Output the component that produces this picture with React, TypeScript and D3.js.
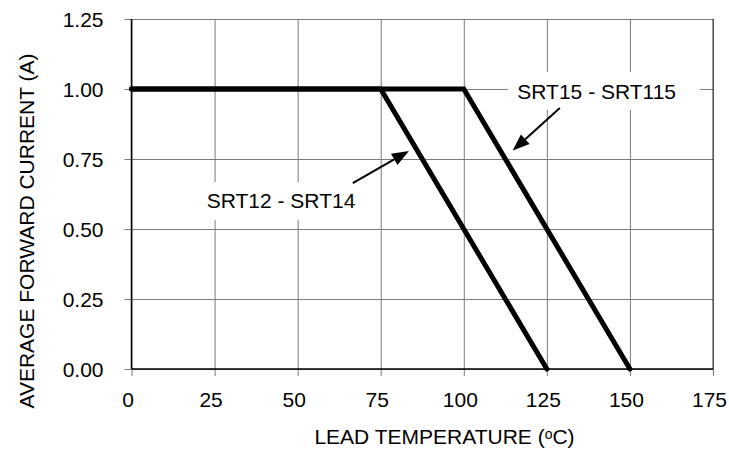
import React, { useEffect, useRef } from 'react';
import * as d3 from 'd3';

// derating curves: lead temperature (°C) vs average forward current (A)
const srt12Temps = [0, 75, 125];
const srt12Current = [1.0, 1.0, 0.0];
const srt15Temps = [0, 100, 150];
const srt15Current = [1.0, 1.0, 0.0];

const xTicks = [0, 25, 50, 75, 100, 125, 150, 175];
const yTicks = [0, 0.25, 0.5, 0.75, 1.0, 1.25];

// callouts in data units: label anchor and arrow from -> to
const calloutNames = ['SRT15 - SRT115', 'SRT12 - SRT14'];
const calloutLabelAt = [[140, 0.965], [45, 0.575]];
const calloutArrowFrom = [[128.9, 0.932], [66.6, 0.664]];
const calloutArrowTo = [[114.7, 0.78], [83.5, 0.779]];

const W = 729;
const H = 449;
const FONT = '"Liberation Sans", Arial, Helvetica, sans-serif';

const App: React.FC = () => {
  const svgRef = useRef<SVGSVGElement>(null);

  useEffect(() => {
    if (!svgRef.current) return;
    const svg = d3.select(svgRef.current);
    svg.selectAll('*').remove();

    const left = 131.5, right = 713, top = 19, bottom = 369;
    const x = d3.scaleLinear().domain([0, 175]).range([left, right]);
    const y = d3.scaleLinear().domain([0, 1.25]).range([bottom, top]);

    // horizontal grid + y ticks
    const yAxis = svg.append('g')
      .attr('transform', `translate(${left},0)`)
      .call(d3.axisLeft(y).tickValues(yTicks).tickSize(7).tickFormat(d3.format('.2f')));
    yAxis.select('.domain').remove();
    yAxis.selectAll('.tick line')
      .attr('x2', -7).attr('x1', right - left)
      .attr('stroke', '#7a7a7a').attr('stroke-width', 1);
    yAxis.selectAll('.tick text')
      .attr('x', -28).attr('dy', '0.36em')
      .style('font-family', FONT).style('font-size', '21px').attr('fill', '#000');

    // vertical grid + x ticks
    const xAxis = svg.append('g')
      .attr('transform', `translate(0,${bottom})`)
      .call(d3.axisBottom(x).tickValues(xTicks).tickSize(7).tickFormat(d3.format('d')));
    xAxis.select('.domain').remove();
    xAxis.selectAll('.tick line')
      .attr('y2', 7).attr('y1', top - bottom)
      .attr('stroke', '#7a7a7a').attr('stroke-width', 1);
    xAxis.selectAll('.tick text')
      .attr('x', -4).attr('y', 23).attr('dy', '0.71em')
      .style('font-family', FONT).style('font-size', '21px').attr('fill', '#000');

    // right border slightly darker
    svg.append('line')
      .attr('x1', x(175)).attr('x2', x(175)).attr('y1', top).attr('y2', bottom)
      .attr('stroke', '#333').attr('stroke-width', 1);

    // white boxes behind callout labels
    svg.append('rect')
      .attr('x', 508).attr('y', 72).attr('width', 192).attr('height', 38).attr('fill', '#fff');
    svg.append('rect')
      .attr('x', 199).attr('y', 182).attr('width', 165).attr('height', 38).attr('fill', '#fff');

    // axes
    svg.append('line')
      .attr('x1', left).attr('x2', left).attr('y1', top).attr('y2', bottom)
      .attr('stroke', '#000').attr('stroke-width', 1.5);
    svg.append('line')
      .attr('x1', left).attr('x2', right).attr('y1', bottom).attr('y2', bottom)
      .attr('stroke', '#000').attr('stroke-width', 1.5);

    const drawCurve = (temps: number[], cur: number[]) => {
      const pts = temps.map((t, i) => [x(t), y(cur[i])] as [number, number]);
      svg.append('path')
        .attr('d', d3.line()(pts))
        .attr('fill', 'none')
        .attr('stroke', '#000')
        .attr('stroke-width', 5)
        .attr('stroke-linejoin', 'miter')
        .attr('stroke-linecap', 'round');
    };
    drawCurve(srt12Temps, srt12Current);
    drawCurve(srt15Temps, srt15Current);

    // callouts
    calloutNames.forEach((name, i) => {
      const [fx, fy] = [x(calloutArrowFrom[i][0]), y(calloutArrowFrom[i][1])];
      const [tx, ty] = [x(calloutArrowTo[i][0]), y(calloutArrowTo[i][1])];
      const ang = Math.atan2(ty - fy, tx - fx);
      const headLen = 17, headW = 6.5;
      const bx = tx - headLen * Math.cos(ang), by = ty - headLen * Math.sin(ang);
      svg.append('line')
        .attr('x1', fx).attr('y1', fy).attr('x2', bx).attr('y2', by)
        .attr('stroke', '#000').attr('stroke-width', 2);
      const px = -Math.sin(ang) * headW, py = Math.cos(ang) * headW;
      svg.append('path')
        .attr('d', `M${tx},${ty}L${bx + px},${by + py}L${bx - px},${by - py}Z`)
        .attr('fill', '#000');
      svg.append('text')
        .attr('x', x(calloutLabelAt[i][0]))
        .attr('y', y(calloutLabelAt[i][1]))
        .attr('text-anchor', 'middle')
        .style('font-family', FONT).style('font-size', '21px')
        .text(name);
    });

    // axis titles
    const xt = svg.append('text')
      .attr('x', 444.5).attr('y', 444)
      .attr('text-anchor', 'middle')
      .style('font-family', FONT).style('font-size', '21px');
    xt.append('tspan').text('LEAD TEMPERATURE (');
    xt.append('tspan').attr('baseline-shift', '35%').style('font-size', '14px').text('o');
    xt.append('tspan').text('C)');

    svg.append('text')
      .attr('transform', `translate(34,231) rotate(-90)`)
      .attr('text-anchor', 'middle')
      .style('font-family', FONT).style('font-size', '21px')
      .text('AVERAGE FORWARD CURRENT (A)');
  }, []);

  return (
    <svg
      ref={svgRef}
      width={W}
      height={H}
      style={{ position: 'absolute', left: 0, top: 0, background: '#fff' }}
    />
  );
};

export default App;
